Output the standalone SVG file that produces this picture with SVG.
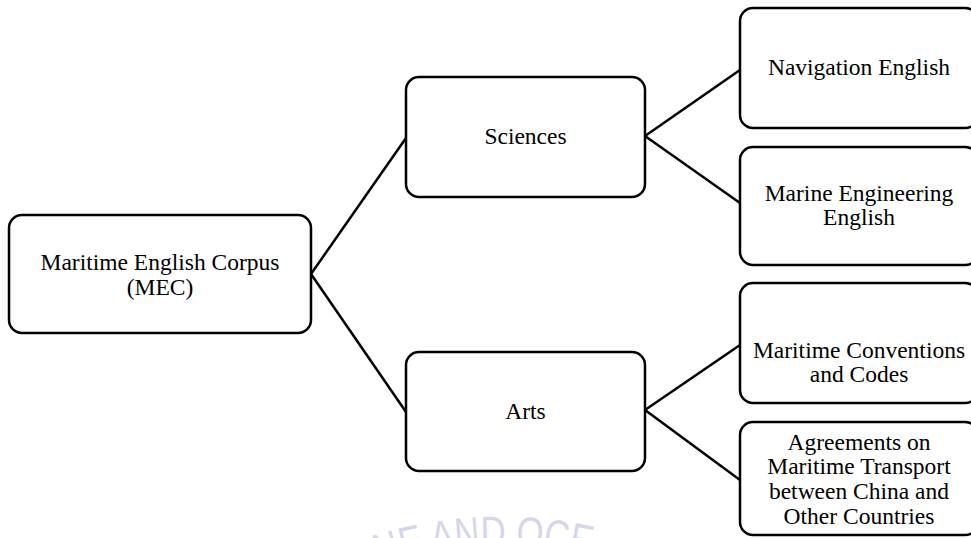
<svg xmlns="http://www.w3.org/2000/svg" width="971" height="538" viewBox="0 0 971 538">
  <style>
    .box { fill: #ffffff; stroke: #000000; stroke-width: 2.5; }
    .lbl { font-family: "Liberation Serif", "Times New Roman", serif; font-size: 23.5px; fill: #000000; text-anchor: middle; }
    .link { stroke: #000000; stroke-width: 2.5; fill: none; }
    .wm { font-family: "Liberation Sans", Arial, sans-serif; font-size: 44px; fill: #d6d6ea; }
  </style>
  <defs>
    <path id="stamp-arc" d="M 378 566 Q 490 530 612 562"/>
  </defs>
  <rect width="971" height="538" fill="#ffffff"/>

  <!-- faint background stamp along the bottom edge -->
  <text class="wm"><textPath href="#stamp-arc" textLength="215" lengthAdjust="spacingAndGlyphs">NE AND OCE</textPath></text>

  <!-- connectors -->
  <g id="connectors">
    <line class="link" x1="311" y1="274" x2="406" y2="138"/>
    <line class="link" x1="311" y1="274" x2="406" y2="412"/>
    <line class="link" x1="645" y1="136" x2="740" y2="70"/>
    <line class="link" x1="645" y1="136" x2="740" y2="203"/>
    <line class="link" x1="645" y1="410" x2="740" y2="345"/>
    <line class="link" x1="645" y1="410" x2="740" y2="480"/>
  </g>

  <!-- root -->
  <g id="node-mec">
    <rect class="box" x="9" y="215" width="302" height="118" rx="13"/>
    <text class="lbl" x="160" y="270">Maritime English Corpus</text>
    <text class="lbl" x="160" y="295">(MEC)</text>
  </g>

  <!-- second level -->
  <g id="node-sciences">
    <rect class="box" x="406" y="77" width="239" height="120" rx="13"/>
    <text class="lbl" x="525.5" y="144">Sciences</text>
  </g>
  <g id="node-arts">
    <rect class="box" x="406" y="352" width="239" height="119" rx="13"/>
    <text class="lbl" x="525.5" y="419">Arts</text>
  </g>

  <!-- leaves -->
  <g id="node-navigation">
    <rect class="box" x="740" y="8" width="238" height="120" rx="13"/>
    <text class="lbl" x="859" y="75">Navigation English</text>
  </g>
  <g id="node-marine-engineering">
    <rect class="box" x="740" y="147" width="238" height="118" rx="13"/>
    <text class="lbl" x="859" y="201">Marine Engineering</text>
    <text class="lbl" x="859" y="225">English</text>
  </g>
  <g id="node-conventions">
    <rect class="box" x="740" y="283" width="238" height="120" rx="13"/>
    <text class="lbl" x="859" y="358">Maritime Conventions</text>
    <text class="lbl" x="859" y="382">and Codes</text>
  </g>
  <g id="node-agreements">
    <rect class="box" x="740" y="422" width="238" height="113" rx="13"/>
    <text class="lbl" x="859" y="450">Agreements on</text>
    <text class="lbl" x="859" y="474">Maritime Transport</text>
    <text class="lbl" x="859" y="499">between China and</text>
    <text class="lbl" x="859" y="524">Other Countries</text>
  </g>
</svg>
